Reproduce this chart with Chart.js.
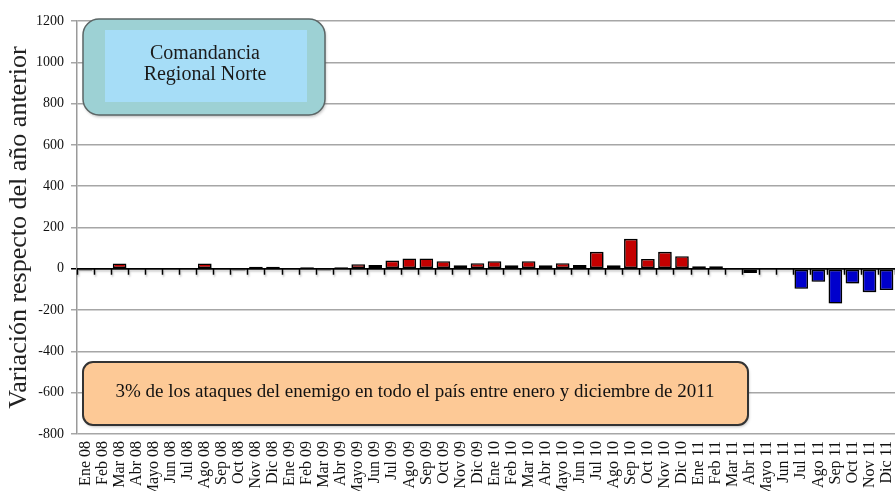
<!DOCTYPE html>
<html>
<head>
<meta charset="utf-8">
<script src="https://cdn.jsdelivr.net/npm/chart.js@4"></script>
<style>
  html, body { margin: 0; padding: 0; background: #fff; }
  #wrap { width: 895px; height: 491px; position: relative; }
</style>
</head>
<body>
<div id="wrap"><canvas id="myChart"></canvas></div>
<script>
const months = [
    'Ene 08', 'Feb 08', 'Mar 08', 'Abr 08', 'Mayo 08', 'Jun 08', 'Jul 08', 'Ago 08', 'Sep 08', 'Oct 08', 'Nov 08', 'Dic 08',
    'Ene 09', 'Feb 09', 'Mar 09', 'Abr 09', 'Mayo 09', 'Jun 09', 'Jul 09', 'Ago 09', 'Sep 09', 'Oct 09', 'Nov 09', 'Dic 09',
    'Ene 10', 'Feb 10', 'Mar 10', 'Abr 10', 'Mayo 10', 'Jun 10', 'Jul 10', 'Ago 10', 'Sep 10', 'Oct 10', 'Nov 10', 'Dic 10',
    'Ene 11', 'Feb 11', 'Mar 11', 'Abr 11', 'Mayo 11', 'Jun 11', 'Jul 11', 'Ago 11', 'Sep 11', 'Oct 11', 'Nov 11', 'Dic 11'
];
const variation = [
    -8, 0, 26, 0, 0, 0, 0, 26, 0, -8, 10, 10,
    0, 8, -8, 8, 22, 19, 40, 50, 50, 37, 17, 27,
    37, 17, 37, 17, 27, 19, 82, 17, 145, 48, 82, 61,
    12, 12, -5, -20, 0, -5, -97, -63, -168, -71, -113, -103
];
const yTickValues = [-800, -600, -400, -200, 0, 200, 400, 600, 800, 1000, 1200];

const axisTitle = 'Variación respecto del año anterior';
const regionLines = ['Comandancia', 'Regional Norte'];
const noteText = '3% de los ataques del enemigo en todo el país entre enero y diciembre de 2011';

const serif = '"Liberation Serif", "DejaVu Serif", serif';

// drop shadow under the bars, like the original
const barShadow = {
    id: 'barShadow',
    beforeDatasetsDraw(chart) {
        const c = chart.ctx;
        c.save();
        c.shadowColor = 'rgba(0,0,0,0.28)';
        c.shadowBlur = 3;
        c.shadowOffsetX = 2;
        c.shadowOffsetY = 3;
    },
    afterDatasetsDraw(chart) {
        chart.ctx.restore();
        // zero axis with tick marks between categories
        const c = chart.ctx;
        const area = chart.chartArea;
        const y0 = chart.scales.y.getPixelForValue(0);
        const n = months.length;
        const w = (area.right - area.left) / n;
        c.save();
        c.shadowColor = 'rgba(0,0,0,0.25)';
        c.shadowBlur = 2;
        c.shadowOffsetX = 1;
        c.shadowOffsetY = 2;
        c.strokeStyle = '#000';
        c.lineWidth = 1.5;
        c.beginPath();
        c.moveTo(area.left, y0);
        c.lineTo(area.right, y0);
        for (let i = 0; i <= n; i++) {
            const px = Math.round(area.left + i * w) + 0.5;
            c.moveTo(px, y0);
            c.lineTo(px, y0 + 6);
        }
        c.stroke();
        c.restore();
    }
};

const boxes = {
    id: 'boxes',
    afterDraw(chart) {
        const c = chart.ctx;
        c.save();
        // region box
        c.shadowColor = 'rgba(0,0,0,0.25)';
        c.shadowBlur = 3;
        c.shadowOffsetX = 1;
        c.shadowOffsetY = 2;
        c.beginPath();
        c.roundRect(83, 19, 242, 96, 16);
        c.fillStyle = '#9dd1d4';
        c.fill();
        c.shadowColor = 'transparent';
        c.strokeStyle = '#5b6565';
        c.lineWidth = 1.5;
        c.stroke();
        c.fillStyle = '#a6ddf7';
        c.fillRect(105, 30, 202, 72);
        c.fillStyle = '#1a1a1a';
        c.font = '20px ' + serif;
        c.textAlign = 'center';
        c.textBaseline = 'middle';
        c.fillText(regionLines[0], 205, 54);
        c.fillText(regionLines[1], 205, 75);

        // note box
        c.shadowColor = 'rgba(0,0,0,0.25)';
        c.shadowBlur = 3;
        c.shadowOffsetX = 1;
        c.shadowOffsetY = 2;
        c.beginPath();
        c.roundRect(83, 362, 665, 63, 10);
        c.fillStyle = '#fdc996';
        c.fill();
        c.shadowColor = 'transparent';
        c.strokeStyle = '#333';
        c.lineWidth = 2;
        c.stroke();
        c.font = '100px ' + serif;
        const size = 100 * 600 / c.measureText(noteText).width;
        c.font = size.toFixed(1) + 'px ' + serif;
        c.fillStyle = '#111';
        c.fillText(noteText, 415, 392);
        c.restore();
    }
};

const ctx = document.getElementById('myChart');

new Chart(ctx, {
    type: 'bar',
    data: {
        labels: months,
        datasets: [{
            data: variation,
            backgroundColor: variation.map(v => v < 0 ? '#0000cc' : '#c40000'),
            borderColor: '#000',
            borderWidth: 1.6,
            borderSkipped: false,
            barPercentage: 0.8,
            categoryPercentage: 1
        }]
    },
    options: {
        responsive: true,
        maintainAspectRatio: false,
        animation: false,
        devicePixelRatio: 1,
        layout: { padding: { top: 21, right: 0, bottom: 0, left: 0 } },
        plugins: {
            legend: { display: false },
            tooltip: { enabled: false }
        },
        scales: {
            x: {
                grid: { display: false, drawTicks: false },
                border: { display: false },
                ticks: {
                    autoSkip: false,
                    minRotation: 90,
                    maxRotation: 90,
                    padding: 7,
                    color: '#111',
                    font: { family: serif, size: 16 }
                },
                afterFit(s) {
                    s.height = 57;
                    s.paddingLeft = 0;
                    s.paddingRight = 0;
                }
            },
            y: {
                min: -800,
                max: 1200,
                afterBuildTicks(s) {
                    s.ticks = yTickValues.map(v => ({ value: v }));
                },
                grid: {
                    color: c => (c.tick && c.tick.value === 0) ? '#000' : '#a6a6a6',
                    lineWidth: 1.5,
                    tickLength: 6
                },
                border: { color: '#9a9a9a', width: 1.5 },
                ticks: {
                    padding: 7,
                    color: '#111',
                    font: { family: serif, size: 14 },
                    callback: v => String(v)
                },
                title: {
                    display: true,
                    text: axisTitle,
                    color: '#222',
                    font: { family: serif, size: 26 },
                    padding: { top: 4, bottom: 0 }
                },
                afterFit(s) {
                    s.width = 77;
                    s.paddingTop = 0;
                    s.paddingBottom = 0;
                }
            }
        }
    },
    plugins: [barShadow, boxes]
});
</script>
</body>
</html>
